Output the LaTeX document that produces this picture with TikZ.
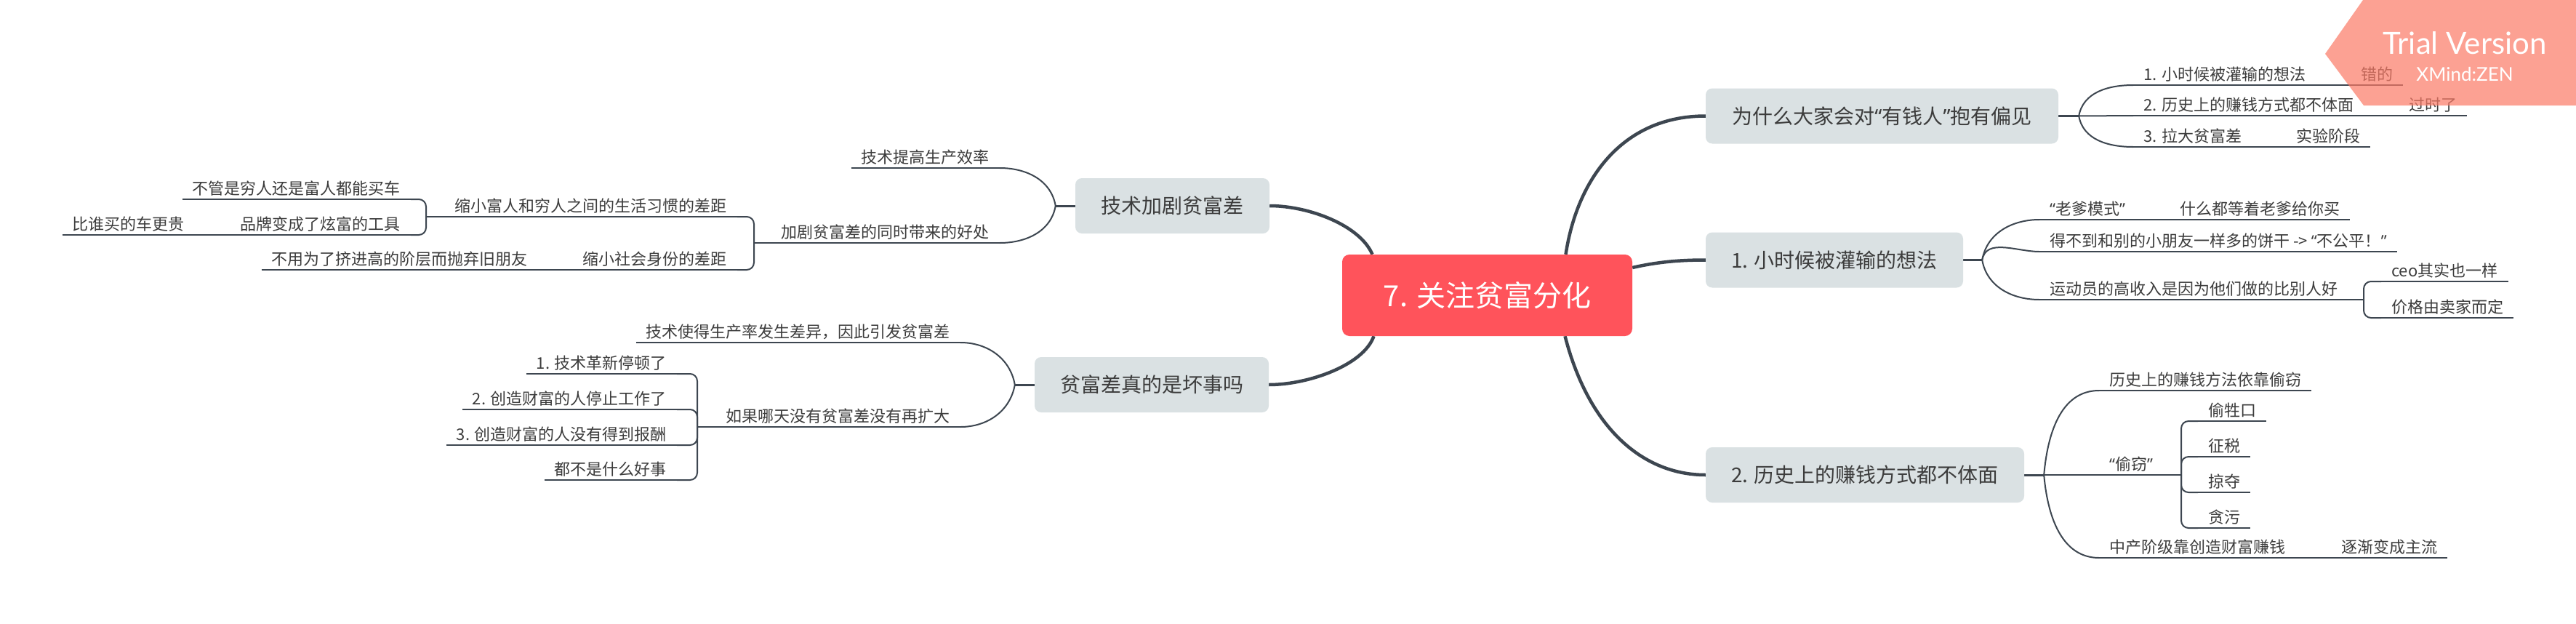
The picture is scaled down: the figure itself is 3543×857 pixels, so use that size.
\documentclass[tikz,border=0pt]{standalone}
\usepackage{fontspec}
\setmainfont{Noto Sans CJK SC}
\newfontfamily\latq{Noto Sans}
\newfontfamily\trialfont{Lato}
\usetikzlibrary{calc,backgrounds}
\definecolor{linec}{HTML}{3D4650}
\definecolor{txtc}{HTML}{3C3C3C}
\definecolor{boxc}{HTML}{DAE1E3}
\definecolor{rootc}{HTML}{FF535B}
\definecolor{trialc}{RGB}{251,122,102}
\newcommand\myoq{{\latq “}}
\newcommand\mycq{{\latq ”}}
\tikzset{
 rootbox/.style={fill=rootc, rounded corners=10pt, minimum width=399pt, minimum height=112pt, inner sep=0pt, text=white, font=\fontsize{40}{48}\selectfont},
 mainbox/.style={fill=boxc, rounded corners=9pt, minimum height=76pt, inner sep=0pt, text=txtc, font=\fontsize{28}{34}\selectfont},
 subtxt/.style={inner xsep=14pt, inner ysep=0pt, text height=18pt, text depth=6pt, text=txtc, font=\fontsize{22}{26}\selectfont},
 subR/.style={subtxt, anchor=south west},
 subL/.style={subtxt, anchor=south east},
 uline/.style={draw=linec, line width=2.6pt},
 mainline/.style={draw=linec, line width=4.5pt},
 stubline/.style={draw=linec, line width=3pt},
 branch/.style={draw=linec, line width=2pt},
 elbow/.style={draw=linec, line width=2pt, rounded corners=10pt},
}
\begin{document}
\begin{tikzpicture}[x=1pt,y=-1pt]
\useasboundingbox (0,0) rectangle (3543,857);
% root and main topics
\node[rootbox] (C) at (2045.5,406) {7. 关注贫富分化};
\node[mainbox, minimum width=485pt] (T1) at (2588.5,159.5) {为什么大家会对\myoq 有钱人\mycq 抱有偏见};
\node[mainbox, minimum width=354pt] (T2) at (2523,357.5) {1. 小时候被灌输的想法};
\node[mainbox, minimum width=438pt] (T3) at (2565,653) {2. 历史上的赚钱方式都不体面};
\node[mainbox, minimum width=267pt] (T4) at (1612.5,283) {技术加剧贫富差};
\node[mainbox, minimum width=322pt] (T5) at (1584,529) {贫富差真的是坏事吗};

% T1 children
\node[subR] (a1) at (2934,117) {1. 小时候被灌输的想法};
\node[subR] (a1c) at (3233,117) {错的};
\node[subR] (a2) at (2934,159) {2. 历史上的赚钱方式都不体面};
\node[subR] (a2c) at (3299,159) {过时了};
\node[subR] (a3) at (2934,202) {3. 拉大贫富差};
\node[subR] (a3c) at (3144,202) {实验阶段};
% T2 children
\node[subR] (b1) at (2805,302) {\myoq 老爹模式\mycq};
\node[subR] (b1c) at (2984,302) {什么都等着老爹给你买};
\node[subR] (b2) at (2805,346) {得不到和别的小朋友一样多的饼干 -> \myoq 不公平！\mycq};
\node[subR] (b3) at (2805,412) {运动员的高收入是因为他们做的比别人好};
\node[subR] (b3a) at (3275,387) {ceo其实也一样};
\node[subR] (b3b) at (3275,437) {价格由卖家而定};
% T3 children
\node[subR] (c1) at (2887,537) {历史上的赚钱方法依靠偷窃};
\node[subR] (c2) at (2887,653) {\myoq 偷窃\mycq};
\node[subR] (c2a) at (3023,579) {偷牲口};
\node[subR] (c2b) at (3023,628) {征税};
\node[subR] (c2c) at (3023,677) {掠夺};
\node[subR] (c2d) at (3023,726) {贪污};
\node[subR] (c3) at (2887,767) {中产阶级靠创造财富赚钱};
\node[subR] (c3a) at (3206,767) {逐渐变成主流};
% T4 children
\node[subL] (d1) at (1375,231) {技术提高生产效率};
\node[subL] (d2) at (1375,334) {加剧贫富差的同时带来的好处};
\node[subL] (d2a) at (1014,298) {缩小富人和穷人之间的生活习惯的差距};
\node[subL] (d2b) at (1014,371) {缩小社会身份的差距};
\node[subL] (d2a1) at (565,274) {不管是穷人还是富人都能买车};
\node[subL] (d2a2) at (565,323) {品牌变成了炫富的工具};
\node[subL] (d2a2c) at (268,323) {比谁买的车更贵};
\node[subL] (d2bc) at (740,371) {不用为了挤进高的阶层而抛弃旧朋友};
% T5 children
\node[subL] (e1) at (1321,471) {技术使得生产率发生差异，因此引发贫富差};
\node[subL] (e2) at (1321,587) {如果哪天没有贫富差没有再扩大};
\node[subL] (e2a) at (931,514) {1. 技术革新停顿了};
\node[subL] (e2b) at (931,563) {2. 创造财富的人停止工作了};
\node[subL] (e2c) at (931,612) {3. 创造财富的人没有得到报酬};
\node[subL] (e2d) at (931,660) {都不是什么好事};

% junction coordinates
\coordinate (J1) at ([xshift=28pt]T1.east);
\coordinate (J2) at ([xshift=26pt]T2.east);
\coordinate (J3) at ([xshift=27pt]T3.east);
\coordinate (J4) at ([xshift=-27pt]T4.west);
\coordinate (J5) at ([xshift=-27pt]T5.west);
\coordinate (j3) at (3251,412);
\coordinate (jc) at (3000,653);
\coordinate (jd) at (1037,334);
\coordinate (jda) at (586,298);
\coordinate (jx) at (959,587);

\begin{scope}[on background layer]
\fill[white] (0,0) rectangle (3543,857);
% main connectors
\draw[mainline] ([xshift=108pt]C.north) .. controls +(15,-100) and +(-117,0) .. (T1.west);
\draw[mainline] ([yshift=38pt]C.east) .. controls +(35,-8) and +(-35,0) .. (T2.west);
\draw[mainline] ([xshift=107pt]C.south) .. controls +(33,128) and +(-85,0) .. (T3.west);
\draw[mainline] ([xshift=-158pt]C.north) .. controls +(-17,-40) and +(54,0) .. (T4.east);
\draw[mainline] ([xshift=-156pt]C.south) .. controls +(-14,40) and +(54,0) .. (T5.east);
% stubs
\draw[stubline] (T1.east) -- (J1);
\draw[stubline] (T2.east) -- (J2);
\draw[stubline] (T3.east) -- (J3);
\draw[stubline] (T4.west) -- (J4);
\draw[stubline] (T5.west) -- (J5);
% underlines
\foreach \n in {a1,a1c,a2,a2c,a3,a3c,b1,b1c,b2,b3,b3a,b3b,c1,c2,c2a,c2b,c2c,c2d,c3,c3a,d1,d2,d2a,d2b,d2a1,d2a2,d2a2c,d2bc,e1,e2,e2a,e2b,e2c,e2d}
  \draw[uline] (\n.south west) -- (\n.south east);
% same-line continuations
\draw[uline] (a1.south east) -- (a1c.south west);
\draw[uline] (a2.south east) -- (a2c.south west);
\draw[uline] (a3.south east) -- (a3c.south west);
\draw[uline] (b1.south east) -- (b1c.south west);
\draw[uline] (b3.south east) -- (j3);
\draw[uline] (c2.south east) -- (jc);
\draw[uline] (c3.south east) -- (c3a.south west);
\draw[uline] (d2.south west) -- (jd);
\draw[uline] (d2a.south west) -- (jda);
\draw[uline] (d2a2.south west) -- (d2a2c.south east);
\draw[uline] (d2b.south west) -- (d2bc.south east);
\draw[uline] (e2.south west) -- (jx);
% curved branches
\draw[branch] (J1) to[out=80,in=180] (a1.south west);
\draw[branch] (J1) -- (a2.south west);
\draw[branch] (J1) to[out=-80,in=180] (a3.south west);
\draw[branch] (J2) to[out=80,in=180] (b1.south west);
\draw[branch] (J2) to[out=80,in=180] (b2.south west);
\draw[branch] (J2) to[out=-80,in=180] (b3.south west);
\draw[branch] (J3) to[out=85,in=180] (c1.south west);
\draw[branch] (J3) -- (c2.south west);
\draw[branch] (J3) to[out=-85,in=180] (c3.south west);
\draw[branch] (J4) to[out=100,in=0] (d1.south east);
\draw[branch] (J4) to[out=-100,in=0] (d2.south east);
\draw[branch] (J5) to[out=100,in=0] (e1.south east);
\draw[branch] (J5) to[out=-100,in=0] (e2.south east);
% elbows
\draw[elbow] (j3) |- (b3a.south west);
\draw[elbow] (j3) |- (b3b.south west);
\draw[elbow] (jc) |- (c2a.south west);
\draw[elbow] (jc) |- (c2b.south west);
\draw[elbow] (jc) |- (c2c.south west);
\draw[elbow] (jc) |- (c2d.south west);
\draw[elbow] (jd) |- (d2a.south east);
\draw[elbow] (jd) |- (d2b.south east);
\draw[elbow] (jda) |- (d2a1.south east);
\draw[elbow] (jda) |- (d2a2.south east);
\draw[elbow] (jx) |- (e2a.south east);
\draw[elbow] (jx) |- (e2b.south east);
\draw[elbow] (jx) |- (e2c.south east);
\draw[elbow] (jx) |- (e2d.south east);
\end{scope}

% trial banner
\fill[trialc, fill opacity=0.7] (3250,0) -- (3198,74) -- (3251,145) -- (3543,145) -- (3543,0) -- cycle;
\node[text=white, inner sep=0pt, font=\trialfont\fontsize{42}{48}\selectfont, anchor=base] (tv) at (3390,74) {Trial Version};
\node[text=white, inner sep=0pt, font=\trialfont\fontsize{26}{30}\selectfont, anchor=base] (xz) at (3390,111) {XMind:ZEN};
\end{tikzpicture}
\end{document}
